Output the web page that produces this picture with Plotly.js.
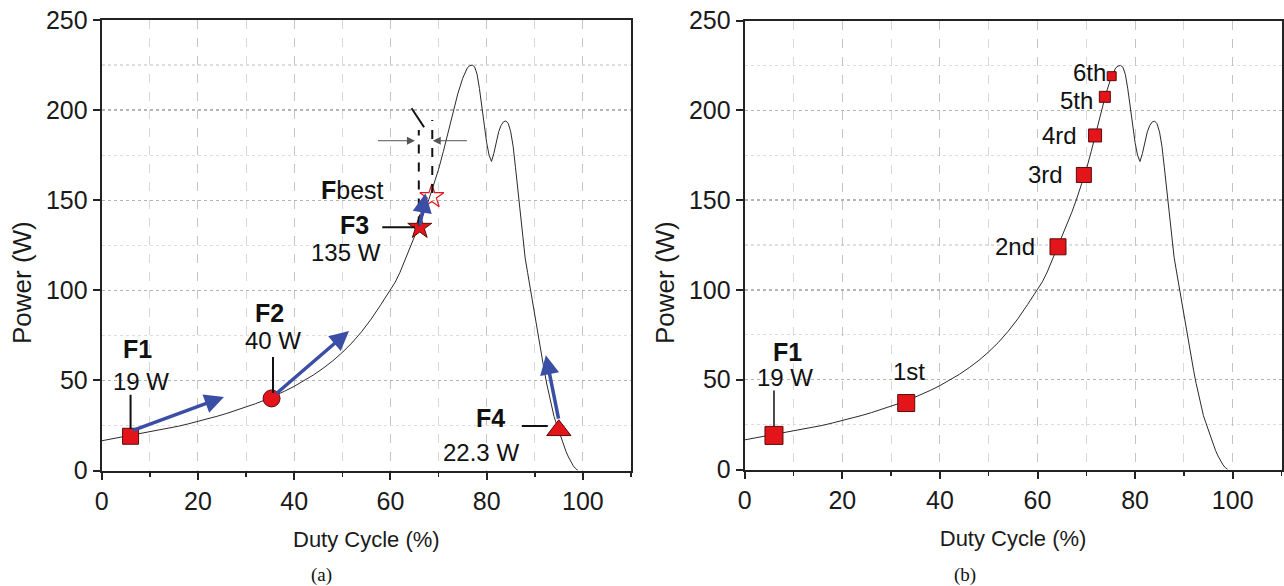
<!DOCTYPE html>
<html>
<head>
<meta charset="utf-8">
<script src="https://cdn.plot.ly/plotly-3.0.1.min.js"></script>
<style>
html,body{margin:0;padding:0;background:#fff;}
#chart{width:1284px;height:586px;}
</style>
</head>
<body>
<div id="chart"></div>
<script>
// ---- Data ----
const duty = [0,2,4,6,8,10,12,14,16,18,20,22,24,26,28,30,32,34,36,38,40,42,44,46,48,50,52,54,56,58,60,
  61,62,63,64,65,66,67,68,69,70,71,72,73,74,75,
  75.5,76,76.5,77,77.5,78,78.5,79,79.5,80,80.5,81,81.5,82,82.5,83,83.5,84,84.5,85,85.5,86,86.5,87,87.5,88,88.5,89,89.5,90,90.5,91,91.5,92,92.5,93,93.5,94,94.5,95,95.5,96,96.5,97,97.5,98,98.5,99];
const power = [16.5,17.5,18.3,19.2,20.2,21.2,22.3,23.4,24.6,25.9,27.2,28.6,30.1,31.7,33.4,35.2,37.1,39.2,41.5,44,46.7,49.7,53,56.7,60.8,65.5,70.8,77,84,92,100,
  104.5,110,116.5,123.5,130,136,143,150.5,158.5,167,177,188,199,209,217.5,
  221,223.5,224.6,225,224,220,212,202,191.5,182,175,171.5,176,182.5,188,191.5,193.5,194,192.5,188,180,168,155,142,130,118,110,102,94,85,77,69,62,55,48,42,36,30,26,22,18,14,10.5,7.5,4.8,2.6,1,0];

// (a) perturbation steps
const stepNames = ['F1','F2','F3','F4'];
const stepDuty  = [6, 35.3, 66.1, 95];
const stepPower = [19, 40, 135, 22.3];
const stepWatts = ['19 W','40 W','135 W','22.3 W'];
const bestDuty  = [68.6];
const bestPower = [152];
// blue direction arrows (tail -> head)
const arrowTailX = [6.2, 36, 66.1, 95];
const arrowTailY = [22, 42, 135.3, 28];
const arrowHeadX = [25.4, 51.4, 67.3, 92.3];
const arrowHeadY = [40.8, 77.4, 153.8, 64];

// (b) iterations
const iterNames = ['F1','1st','2nd','3rd','4rd','5th','6th'];
const iterDuty  = [6, 33.1, 64.2, 69.5, 71.8, 73.8, 75.2];
const iterPower = [19, 37, 124, 164, 186, 207.5, 219];

const xTicks = [0,20,40,60,80,100];
const yTicks = [0,50,100,150,200,250];

// ---- Styles ----
const FONT = 'Liberation Sans, Arial, sans-serif';
const RED = '#e3151b';
const EDGE = '#5a0a0a';
const BLUE = '#3a4ea6';

function xAxis(domain, anchor){
  return {
    domain: domain, anchor: anchor, range: [0,110],
    tickvals: xTicks, ticks: 'outside', ticklen: 7, tickwidth: 2, tickcolor: '#222',
    showline: true, linewidth: 2, linecolor: '#222', mirror: true,
    showgrid: true, gridcolor: '#c4c4c4', griddash: 'dash', gridwidth: 1,
    minor: {dtick: 10, tick0: 0, ticks: 'outside', ticklen: 4, tickwidth: 1.5, tickcolor: '#222',
            showgrid: true, gridcolor: '#d8d8d8', griddash: 'dash', gridwidth: 1},
    zeroline: false, tickfont: {family: FONT, size: 25, color: '#1a1a1a'},
    title: {text: 'Duty Cycle (%)', font: {family: FONT, size: 22, color: '#1a1a1a'}, standoff: 18},
    automargin: false, fixedrange: true
  };
}
function yAxis(domain, anchor){
  return {
    domain: domain, anchor: anchor, range: [0,250],
    tickvals: yTicks, ticks: 'outside', ticklen: 7, tickwidth: 2, tickcolor: '#222',
    showline: true, linewidth: 2, linecolor: '#222', mirror: true,
    showgrid: true, gridcolor: '#b4b4b4', griddash: 'dot', gridwidth: 1.3,
    minor: {dtick: 25, tick0: 0, ticks: '', showgrid: true, gridcolor: '#dedede', griddash: 'dot', gridwidth: 1.3},
    zeroline: false, tickfont: {family: FONT, size: 25, color: '#1a1a1a'},
    automargin: false, fixedrange: true
  };
}

const traces = [];
// curves
traces.push({x: duty, y: power, xaxis: 'x', yaxis: 'y', mode: 'lines', line: {color: '#2a2a2a', width: 1}, hoverinfo: 'skip'});
traces.push({x: duty, y: power, xaxis: 'x2', yaxis: 'y2', mode: 'lines', line: {color: '#2a2a2a', width: 1}, hoverinfo: 'skip'});

// (a) markers
const stepSymbols = ['square','circle','star','triangle-up'];
const stepSizes = [16, 17, 18, 21];
traces.push({x: stepDuty, y: stepPower, xaxis: 'x', yaxis: 'y', mode: 'markers',
  marker: {symbol: stepSymbols, size: stepSizes, color: RED, opacity: 1, line: {color: EDGE, width: 1}}});
traces.push({x: bestDuty, y: bestPower, xaxis: 'x', yaxis: 'y', mode: 'markers',
  marker: {symbol: 'star-open', size: 18, color: RED, opacity: 1, line: {color: RED, width: 1.2}}});

// (b) markers
const iterSizes = [18, 17, 16, 15, 13, 11, 9];
traces.push({x: iterDuty, y: iterPower, xaxis: 'x2', yaxis: 'y2', mode: 'markers',
  marker: {symbol: 'square', size: iterSizes, color: RED, opacity: 1, line: {color: EDGE, width: 1}}});

const annotations = [];
const shapes = [];
const bold = s => '<b>' + s + '</b>';
function lab(xr, yr, x, y, text, dx, dy, size, extra){
  annotations.push(Object.assign({xref: xr, yref: yr, x: x, y: y, text: text, showarrow: false,
    xanchor: 'center', yanchor: 'middle', borderpad: 0,
    xshift: dx, yshift: -dy, font: {family: FONT, size: size, color: '#111'}}, extra || {}));
}

// (a) labels: offsets in pixels from each marker
const nameOff  = [[7,-87],[-2,-85],[-65,-2],[-68,-12]];
const wattOff  = [[10,-55],[1,-58],[-74,25],[-78,22]];
for (let i = 0; i < stepNames.length; i++){
  lab('x','y', stepDuty[i], stepPower[i], bold(stepNames[i]), nameOff[i][0], nameOff[i][1], 25);
  lab('x','y', stepDuty[i], stepPower[i], stepWatts[i], wattOff[i][0], wattOff[i][1], 24);
}
lab('x','y', bestDuty[0], bestPower[0], '<b>F</b>best', -79, -7, 25);

// blue arrows
for (let i = 0; i < arrowHeadX.length; i++){
  annotations.push({xref: 'x', yref: 'y', axref: 'x', ayref: 'y',
    x: arrowHeadX[i], y: arrowHeadY[i], ax: arrowTailX[i], ay: arrowTailY[i],
    text: '', showarrow: true, arrowhead: 2, arrowsize: 1.1, arrowwidth: 3.5, arrowcolor: BLUE, standoff: 0, startstandoff: 0});
}

// leader lines (a)
const blk = {color: '#111', width: 2};
shapes.push({type: 'line', xref: 'x', yref: 'y', x0: stepDuty[0], x1: stepDuty[0], y0: stepPower[0] + 4, y1: stepPower[0] + 23, line: blk});
shapes.push({type: 'line', xref: 'x', yref: 'y', x0: stepDuty[1] + 0.3, x1: stepDuty[1] + 0.3, y0: stepPower[1] + 3, y1: stepPower[1] + 23, line: blk});
shapes.push({type: 'line', xref: 'x', yref: 'y', x0: stepDuty[2] - 7.8, x1: stepDuty[2] - 1, y0: stepPower[2], y1: stepPower[2], line: blk});
shapes.push({type: 'line', xref: 'x', yref: 'y', x0: stepDuty[3] - 7.7, x1: stepDuty[3] - 2.3, y0: stepPower[3] + 2.4, y1: stepPower[3] + 2.4, line: blk});

// dashed step-size indicator around F3 / Fbest
const dsh = {color: '#111', width: 2, dash: 'dash'};
shapes.push({type: 'line', xref: 'x', yref: 'y', x0: stepDuty[2] - 0.2, x1: stepDuty[2] - 0.2, y0: stepPower[2] + 1, y1: stepPower[2] + 54, line: dsh});
shapes.push({type: 'line', xref: 'x', yref: 'y', x0: bestDuty[0] + 0.1, x1: bestDuty[0] + 0.1, y0: bestPower[0] + 2, y1: bestPower[0] + 42.5, line: dsh});
shapes.push({type: 'line', xref: 'x', yref: 'y', x0: stepDuty[2] - 1.7, x1: stepDuty[2] + 0.9, y0: stepPower[2] + 66, y1: stepPower[2] + 55.5, line: {color: '#111', width: 2}});
annotations.push({xref: 'x', yref: 'y', axref: 'x', ayref: 'y', x: stepDuty[2] - 1, y: 183, ax: stepDuty[2] - 9, ay: 183,
  text: '', showarrow: true, arrowhead: 2, arrowsize: 1.6, arrowwidth: 1, arrowcolor: '#555', standoff: 0});
annotations.push({xref: 'x', yref: 'y', axref: 'x', ayref: 'y', x: bestDuty[0] + 0.2, y: 183, ax: bestDuty[0] + 7.6, ay: 183,
  text: '', showarrow: true, arrowhead: 2, arrowsize: 1.6, arrowwidth: 1, arrowcolor: '#555', standoff: 0});

// (b) labels
lab('x2','y2', iterDuty[0], iterPower[0], bold(iterNames[0]), 14, -83, 25);
lab('x2','y2', iterDuty[0], iterPower[0], '19 W', 11, -58, 24);
shapes.push({type: 'line', xref: 'x2', yref: 'y2', x0: iterDuty[0], x1: iterDuty[0], y0: iterPower[0] + 5, y1: iterPower[0] + 25, line: {color: '#111', width: 1.5}});
lab('x2','y2', iterDuty[1], iterPower[1], iterNames[1], 3, -32, 24);
const iterOff = [null, null, [-22,0], [-20,0], [-17,0], [-11,4], [-5,-4]];
for (let i = 2; i < iterNames.length; i++){
  lab('x2','y2', iterDuty[i], iterPower[i], iterNames[i], iterOff[i][0], iterOff[i][1], 24, {xanchor: 'right'});
}

// y-axis titles and captions
const ytitle = {family: FONT, size: 26, color: '#1a1a1a'};
annotations.push({xref: 'paper', yref: 'paper', x: 22/1284, y: (586-283)/586, xanchor: 'center', yanchor: 'middle', text: 'Power (W)', textangle: -90, showarrow: false, font: ytitle});
annotations.push({xref: 'paper', yref: 'paper', x: 665/1284, y: (586-283)/586, xanchor: 'center', yanchor: 'middle', text: 'Power (W)', textangle: -90, showarrow: false, font: ytitle});
const cap = {family: 'Liberation Serif, Times New Roman, serif', size: 19, color: '#111'};
annotations.push({xref: 'paper', yref: 'paper', x: 321/1284, y: (586-575)/586, xanchor: 'center', yanchor: 'middle', text: '(a)', showarrow: false, font: cap});
annotations.push({xref: 'paper', yref: 'paper', x: 965/1284, y: (586-575)/586, xanchor: 'center', yanchor: 'middle', text: '(b)', showarrow: false, font: cap});

const layout = {
  width: 1284, height: 586,
  margin: {l: 0, r: 0, t: 0, b: 0},
  paper_bgcolor: '#fff', plot_bgcolor: '#fff',
  showlegend: false,
  xaxis: xAxis([101.7/1284, 631/1284], 'y'),
  yaxis: yAxis([(586-470.5)/586, (586-20)/586], 'x'),
  xaxis2: xAxis([744.7/1284, 1281.5/1284], 'y2'),
  yaxis2: yAxis([(586-469.5)/586, (586-20.5)/586], 'x2'),
  annotations: annotations,
  shapes: shapes
};

Plotly.newPlot('chart', traces, layout, {displayModeBar: false, staticPlot: true});
</script>
</body>
</html>
